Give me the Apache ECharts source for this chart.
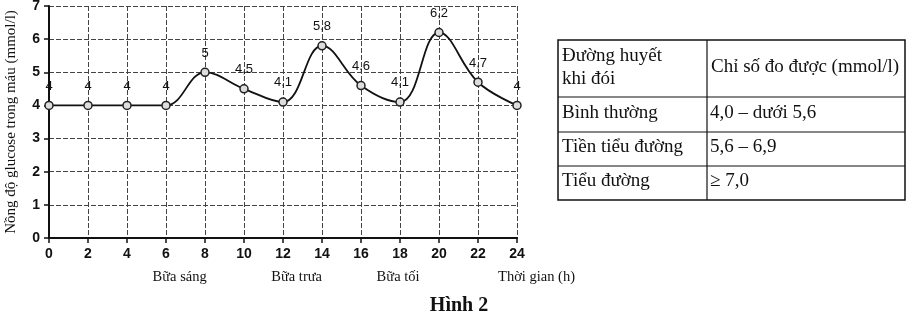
<!DOCTYPE html>
<html><head><meta charset="utf-8">
<script src="https://cdn.jsdelivr.net/npm/echarts@6/dist/echarts.min.js"></script>
<style>html,body{margin:0;padding:0;background:#fff}#c{width:918px;height:322px}</style>
</head><body><div id="c"></div>
<script>
var hours = [0,2,4,6,8,10,12,14,16,18,20,22,24];
var glucose = [4,4,4,4,5,4.5,4.1,5.8,4.6,4.1,6.2,4.7,4];
var yTicks = [0,1,2,3,4,5,6,7];
var mealLabels = ['Bữa sáng','Bữa trưa','Bữa tối'];
var mealHours = [6.7,12.7,17.9];
var tableHeader = ['Đường huyết\nkhi đói','Chỉ số đo được (mmol/l)'];
var tableCol1 = ['Bình thường','Tiền tiểu đường','Tiểu đường'];
var tableCol2 = ['4,0 – dưới 5,6','5,6 – 6,9','≥ 7,0'];

var chart = echarts.init(document.getElementById('c'));
var serif = '"Liberation Serif","DejaVu Serif",serif';
var sans = '"Liberation Sans",Arial,sans-serif';
var gridL = 49, gridR = 401, gridT = 6, gridB = 84;

var graphics = [];
var tx = 558, tc = 707, tr = 905;
var rowsY = [40, 97, 132, 166, 200];
graphics.push({type:'rect', shape:{x:tx,y:rowsY[0],width:tr-tx,height:rowsY[4]-rowsY[0]}, style:{fill:'none',stroke:'#111',lineWidth:1.5}});
graphics.push({type:'line', shape:{x1:tc,y1:rowsY[0],x2:tc,y2:rowsY[4]}, style:{stroke:'#111',lineWidth:1.2}});
for (var i=1;i<4;i++) graphics.push({type:'line', shape:{x1:tx,y1:rowsY[i],x2:tr,y2:rowsY[i]}, style:{stroke:'#111',lineWidth:1.2}});
graphics.push({type:'text', left:tx+4, top:rowsY[0]+5, style:{text:tableHeader[0], font:'19px '+serif, fill:'#111', lineHeight:23}});
graphics.push({type:'text', left:tc+4, top:(rowsY[0]+rowsY[1])/2-11, style:{text:tableHeader[1], font:'19px '+serif, fill:'#111'}});
for (var j=0;j<3;j++){
  var cy = (rowsY[j+1]+rowsY[j+2])/2-11;
  graphics.push({type:'text', left:tx+4, top:cy, style:{text:tableCol1[j], font:'19px '+serif, fill:'#111'}});
  graphics.push({type:'text', left:tc+3, top:cy, style:{text:tableCol2[j], font:'19px '+serif, fill:'#111'}});
}
graphics.push({type:'text', left:'center', top:296, style:{text:'Hình 2', font:'bold 20px '+serif, fill:'#111'}});

chart.setOption({
  animation:false,
  grid:{left:gridL,right:gridR,top:gridT,bottom:gridB,containLabel:false,outerBoundsMode:'none'},
  xAxis:{type:'value',min:0,max:24,interval:2,
    axisLine:{show:true,onZero:false,lineStyle:{color:'#111',width:2}},
    axisTick:{show:true,length:5,lineStyle:{color:'#111',width:1.5}},
    axisLabel:{color:'#111',fontWeight:'bold',fontSize:14,fontFamily:sans,margin:9},
    splitLine:{show:true,lineStyle:{color:'#444',type:[5,2],width:1}}},
  yAxis:{type:'value',min:0,max:7,interval:1,
    name:'Nồng độ glucose trong máu (mmol/l)',nameLocation:'middle',nameRotate:90,nameGap:30,
    nameTextStyle:{fontFamily:serif,fontSize:15,color:'#111'},
    axisLine:{show:true,onZero:false,lineStyle:{color:'#111',width:2}},
    axisTick:{show:true,length:5,lineStyle:{color:'#111',width:1.5}},
    axisLabel:{color:'#111',fontWeight:'bold',fontSize:14,fontFamily:sans,margin:9,
      formatter:function(v){return yTicks.indexOf(v)>=0?String(v):'';}},
    splitLine:{show:true,lineStyle:{color:'#444',type:[5,2],width:1}}},
  series:[{type:'line',smooth:0.4,data:hours.map(function(h,i){return [h,glucose[i]];}),
    lineStyle:{color:'#111',width:1.8},symbol:'circle',symbolSize:8,
    itemStyle:{color:'#ddd',borderColor:'#222',borderWidth:1.5},
    label:{show:true,position:'top',distance:8,color:'#111',fontSize:13,fontFamily:sans,
      formatter:function(p){return String(p.value[1]).replace('.',',');}},
    z:5}],
  graphic:graphics
});
var g2 = graphics.slice();
mealLabels.forEach(function(m,i){
  var px = chart.convertToPixel({xAxisIndex:0},mealHours[i]);
  g2.push({type:'text',x:px,y:270,style:{text:m,font:'14.5px '+serif,fill:'#111',align:'center'}});
});
var px24 = chart.convertToPixel({xAxisIndex:0},25);
g2.push({type:'text',x:px24,y:270,style:{text:'Thời gian (h)',font:'14.5px '+serif,fill:'#111',align:'center'}});
chart.setOption({graphic:g2});
</script></body></html>
